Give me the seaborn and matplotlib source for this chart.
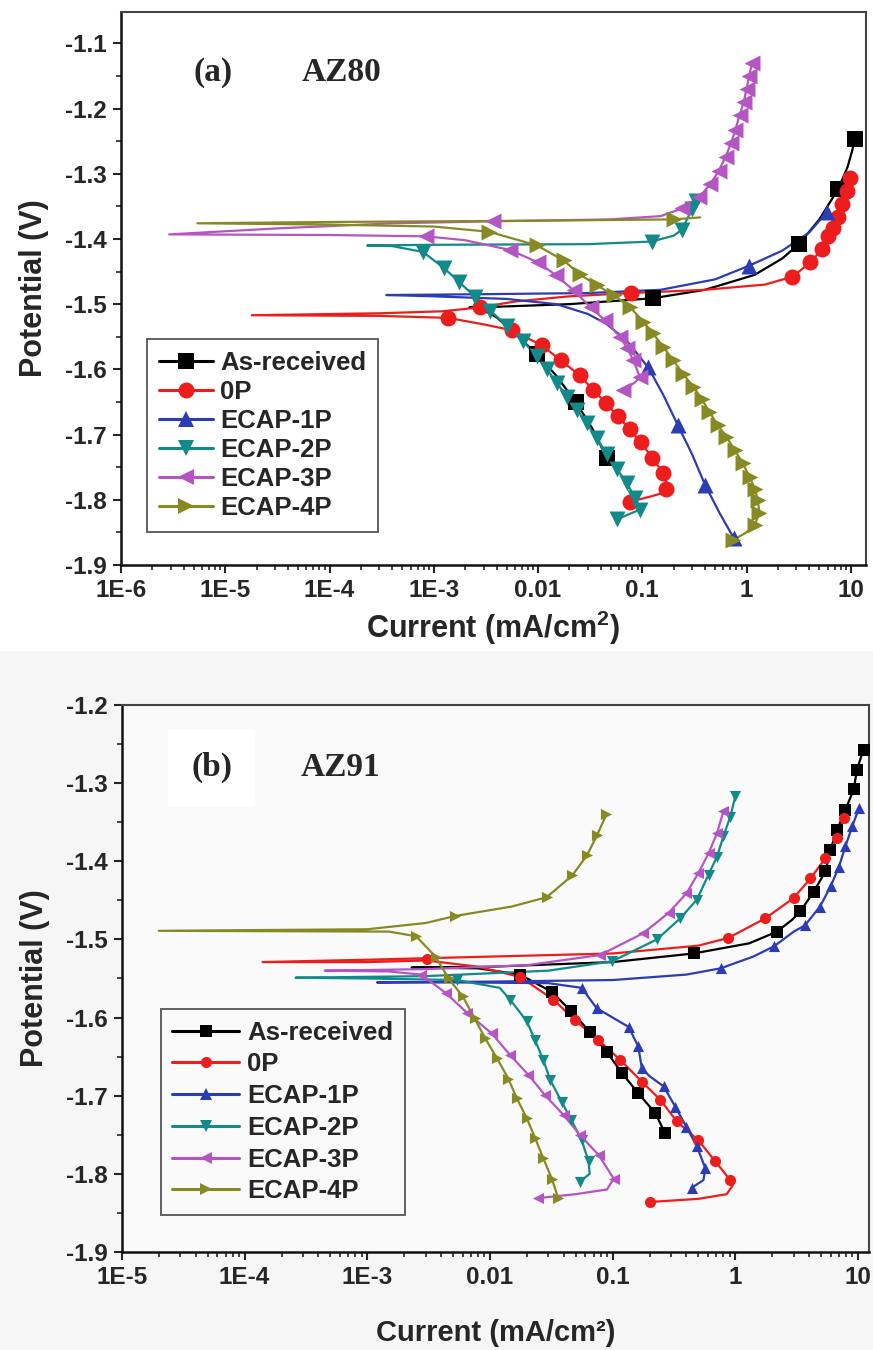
import numpy as np
import pandas as pd
import matplotlib
matplotlib.use("Agg")
import matplotlib.pyplot as plt
import seaborn as sns
from matplotlib.lines import Line2D
from matplotlib.patches import Rectangle
from matplotlib.ticker import FixedLocator, FixedFormatter, LogLocator, MultipleLocator, NullFormatter

# ---- series names / styles ----
labels = ["As-received", "0P", "ECAP-1P", "ECAP-2P", "ECAP-3P", "ECAP-4P"]
colors = ["#000000", "#ee1d1d", "#2b3cb4", "#128a8a", "#b555c4", "#878a22"]
markers = ["s", "o", "^", "v", "<", ">"]

# ---- (a) AZ80: (current mA/cm2, potential V) ----
a_asr_line = [(0.05, -1.745), (0.046, -1.736), (0.033, -1.69), (0.023, -1.65), (0.015, -1.61),
              (0.0098, -1.577), (0.006, -1.545), (0.004, -1.52), (0.0028, -1.507), (0.0022, -1.505),
              (0.004, -1.504), (0.02, -1.500), (0.126, -1.491), (0.4, -1.478), (1.2, -1.455),
              (2.2, -1.43), (3.2, -1.4075), (5.0, -1.37), (7.6, -1.323), (9.3, -1.29), (10.3, -1.265), (11.0, -1.246)]
a_asr_marks = [(0.046, -1.736), (0.023, -1.65), (0.0098, -1.577), (0.126, -1.491), (3.2, -1.4075),
               (7.6, -1.323), (11.0, -1.246)]

a_0p_line = [(0.076, -1.803), (0.12, -1.795), (0.17, -1.788), (0.172, -1.775), (0.158, -1.759),
             (0.125, -1.736), (0.097, -1.712), (0.076, -1.692), (0.058, -1.672), (0.045, -1.652),
             (0.034, -1.632), (0.025, -1.609), (0.0165, -1.586), (0.0108, -1.563), (0.0056, -1.54),
             (0.003, -1.531), (0.00136, -1.521), (0.0003, -1.518), (1.8e-5, -1.517), (0.0003, -1.514),
             (0.0012, -1.511), (0.00277, -1.505), (0.006, -1.496), (0.02, -1.488), (0.078, -1.483),
             (0.4, -1.478), (1.5, -1.47), (2.75, -1.458), (4.1, -1.436), (5.25, -1.416), (6.0, -1.396),
             (6.7, -1.383), (7.6, -1.366), (8.3, -1.346), (9.2, -1.326), (9.8, -1.306)]
a_0p_marks = [(0.076, -1.803), (0.17, -1.784), (0.158, -1.759), (0.125, -1.736), (0.097, -1.712),
              (0.076, -1.692), (0.058, -1.672), (0.045, -1.652), (0.034, -1.632), (0.025, -1.609),
              (0.0165, -1.586), (0.0108, -1.563), (0.0056, -1.54), (0.00136, -1.521), (0.00277, -1.505),
              (0.078, -1.483), (2.75, -1.458), (4.1, -1.436), (5.25, -1.416), (6.0, -1.396), (6.7, -1.383),
              (7.6, -1.366), (8.3, -1.346), (9.2, -1.326), (9.8, -1.306)]

a_1p_line = [(0.75, -1.858), (0.55, -1.82), (0.40, -1.777), (0.3, -1.73), (0.22, -1.686), (0.16, -1.64),
             (0.114, -1.597), (0.07, -1.555), (0.045, -1.53), (0.03, -1.515), (0.015, -1.50), (0.005, -1.492),
             (0.001, -1.488), (3.5e-4, -1.486), (0.002, -1.485), (0.03, -1.483), (0.15, -1.478),
             (0.5, -1.462), (1.06, -1.441), (2.2, -1.418), (4.0, -1.39), (5.96, -1.358)]
a_1p_marks = [(0.75, -1.858), (0.40, -1.777), (0.22, -1.686), (0.114, -1.597), (1.06, -1.441), (5.96, -1.358)]

a_2p_line = [(0.057, -1.83), (0.075, -1.822), (0.095, -1.815), (0.085, -1.797), (0.071, -1.774),
             (0.057, -1.753), (0.0457, -1.73), (0.0366, -1.706), (0.0295, -1.683), (0.0236, -1.662),
             (0.019, -1.642), (0.0152, -1.621), (0.0122, -1.60), (0.0097, -1.58), (0.0072, -1.557),
             (0.005, -1.533), (0.0035, -1.51), (0.0025, -1.489), (0.00175, -1.466), (0.00126, -1.445),
             (0.00079, -1.42), (0.0004, -1.411), (2.3e-4, -1.41), (0.001, -1.409), (0.03, -1.408),
             (0.123, -1.404), (0.2, -1.395), (0.24, -1.386), (0.30, -1.354), (0.35, -1.335)]
a_2p_marks = [(0.057, -1.83), (0.095, -1.815), (0.085, -1.797), (0.071, -1.774), (0.057, -1.753),
              (0.0457, -1.73), (0.0366, -1.706), (0.0295, -1.683), (0.0236, -1.662), (0.019, -1.642),
              (0.0152, -1.621), (0.0122, -1.60), (0.0097, -1.58), (0.0072, -1.557), (0.005, -1.533),
              (0.0035, -1.51), (0.0025, -1.489), (0.00175, -1.466), (0.00126, -1.445), (0.00079, -1.42),
              (0.123, -1.404), (0.24, -1.386), (0.30, -1.354), (0.33, -1.342)]

a_3p_line = [(0.066, -1.632), (0.085, -1.62), (0.095, -1.612), (0.082, -1.586), (0.072, -1.568),
             (0.061, -1.55), (0.044, -1.525), (0.032, -1.505), (0.022, -1.479), (0.015, -1.456),
             (0.01, -1.436), (0.0054, -1.417), (0.002, -1.402), (0.00084, -1.396), (1e-4, -1.394),
             (2.9e-6, -1.393), (3e-5, -1.384), (4e-4, -1.376), (0.0037, -1.373), (0.05, -1.37),
             (0.15, -1.365), (0.243, -1.353), (0.35, -1.336), (0.45, -1.316), (0.54, -1.296),
             (0.63, -1.274), (0.71, -1.253), (0.78, -1.233), (0.86, -1.21), (0.94, -1.19), (1.0, -1.17),
             (1.06, -1.15), (1.13, -1.13)]
a_3p_marks = [(0.066, -1.632), (0.095, -1.612), (0.082, -1.586), (0.072, -1.568), (0.061, -1.55),
              (0.044, -1.525), (0.032, -1.505), (0.022, -1.479), (0.015, -1.456), (0.01, -1.436),
              (0.0054, -1.417), (0.00084, -1.396), (0.0037, -1.373), (0.243, -1.353), (0.35, -1.336),
              (0.45, -1.316), (0.54, -1.296), (0.63, -1.274), (0.71, -1.253), (0.78, -1.233), (0.86, -1.21),
              (0.94, -1.19), (1.0, -1.17), (1.06, -1.15), (1.13, -1.13)]

a_4p_line = [(0.74, -1.862), (1.0, -1.85), (1.2, -1.838), (1.33, -1.82), (1.28, -1.80), (1.2, -1.783),
             (1.07, -1.765), (0.92, -1.744), (0.77, -1.724), (0.64, -1.703), (0.53, -1.686), (0.44, -1.665),
             (0.37, -1.645), (0.31, -1.627), (0.246, -1.607), (0.198, -1.586), (0.158, -1.565),
             (0.127, -1.545), (0.102, -1.527), (0.076, -1.504), (0.053, -1.486), (0.0366, -1.471),
             (0.025, -1.454), (0.0176, -1.433), (0.0098, -1.41), (0.0034, -1.389), (0.001, -1.381),
             (1e-4, -1.378), (5.4e-6, -1.376), (1e-4, -1.374), (0.01, -1.372), (0.2, -1.370), (0.36, -1.367)]
a_4p_marks = [(0.74, -1.862), (1.2, -1.838), (1.33, -1.82), (1.28, -1.80), (1.2, -1.783), (1.07, -1.765),
              (0.92, -1.744), (0.77, -1.724), (0.64, -1.703), (0.53, -1.686), (0.44, -1.665), (0.37, -1.645),
              (0.31, -1.627), (0.246, -1.607), (0.198, -1.586), (0.158, -1.565), (0.127, -1.545),
              (0.102, -1.527), (0.076, -1.504), (0.053, -1.486), (0.0366, -1.471), (0.025, -1.454),
              (0.0176, -1.433), (0.0098, -1.41), (0.0034, -1.389), (0.2, -1.370)]

# ---- (b) AZ91 ----
b_asr_line = [(0.268, -1.748), (0.222, -1.722), (0.162, -1.697), (0.119, -1.671), (0.0897, -1.644),
              (0.065, -1.618), (0.046, -1.592), (0.0318, -1.567), (0.0176, -1.545), (0.008, -1.537),
              (0.0023, -1.536), (0.01, -1.535), (0.1, -1.529), (0.457, -1.518), (1.3, -1.505),
              (2.19, -1.490), (2.9, -1.475), (3.39, -1.464), (4.36, -1.439), (5.43, -1.413), (5.97, -1.385),
              (6.76, -1.360), (7.9, -1.334), (9.25, -1.308), (9.8, -1.283), (11.1, -1.257)]
b_asr_marks = [(0.268, -1.748), (0.222, -1.722), (0.162, -1.697), (0.119, -1.671), (0.0897, -1.644),
               (0.065, -1.618), (0.046, -1.592), (0.0318, -1.567), (0.0176, -1.545), (0.457, -1.518),
               (2.19, -1.490), (3.39, -1.464), (4.36, -1.439), (5.43, -1.413), (5.97, -1.385),
               (6.76, -1.360), (7.9, -1.334), (9.25, -1.308), (9.8, -1.283), (11.1, -1.257)]

b_0p_line = [(0.202, -1.836), (0.5, -1.832), (0.85, -1.826), (0.95, -1.815), (0.91, -1.808),
             (0.687, -1.784), (0.50, -1.757), (0.334, -1.733), (0.244, -1.705), (0.173, -1.682),
             (0.115, -1.654), (0.0766, -1.629), (0.049, -1.603), (0.0329, -1.577), (0.0176, -1.548),
             (0.008, -1.535), (0.00305, -1.527), (0.001, -1.529), (1.4e-4, -1.529), (0.001, -1.526),
             (0.01, -1.522), (0.1, -1.518), (0.5, -1.508), (0.88, -1.498), (1.76, -1.473), (2.99, -1.447),
             (4.1, -1.422), (5.43, -1.396), (6.76, -1.370), (7.66, -1.345)]
b_0p_marks = [(0.202, -1.836), (0.91, -1.808), (0.687, -1.784), (0.50, -1.757), (0.334, -1.733),
              (0.244, -1.705), (0.173, -1.682), (0.115, -1.654), (0.0766, -1.629), (0.049, -1.603),
              (0.0329, -1.577), (0.0176, -1.548), (0.00305, -1.525), (0.88, -1.498), (1.76, -1.473),
              (2.99, -1.447), (4.1, -1.422), (5.43, -1.396), (6.76, -1.370), (7.66, -1.345)]

b_1p_line = [(0.44, -1.818), (0.55, -1.808), (0.57, -1.793), (0.487, -1.765), (0.40, -1.740),
             (0.324, -1.714), (0.26, -1.688), (0.2, -1.675), (0.173, -1.665), (0.162, -1.637),
             (0.135, -1.612), (0.1, -1.60), (0.074, -1.588), (0.056, -1.562), (0.03, -1.556),
             (0.005, -1.555), (1.2e-3, -1.555), (0.01, -1.554), (0.1, -1.552), (0.4, -1.545),
             (0.76, -1.537), (1.4, -1.522), (2.06, -1.509), (3.0, -1.49), (3.7, -1.482), (4.9, -1.458),
             (6.0, -1.432), (7.0, -1.407), (7.9, -1.381), (9.0, -1.355), (10.2, -1.332)]
b_1p_marks = [(0.44, -1.818), (0.57, -1.793), (0.487, -1.765), (0.40, -1.740), (0.324, -1.714),
              (0.26, -1.688), (0.173, -1.665), (0.162, -1.637), (0.135, -1.612), (0.074, -1.588),
              (0.056, -1.562), (0.76, -1.537), (2.06, -1.509), (3.7, -1.482), (4.9, -1.458), (6.0, -1.432),
              (7.0, -1.407), (7.9, -1.381), (9.0, -1.355), (10.2, -1.332)]

b_2p_line = [(0.054, -1.810), (0.065, -1.80), (0.0636, -1.784), (0.056, -1.757), (0.046, -1.731),
             (0.0385, -1.708), (0.031, -1.680), (0.0272, -1.654), (0.0233, -1.629), (0.020, -1.605),
             (0.0146, -1.577), (0.012, -1.562), (0.0054, -1.552), (0.001, -1.550), (2.6e-4, -1.549),
             (0.003, -1.547), (0.03, -1.540), (0.099, -1.528), (0.23, -1.500), (0.356, -1.473),
             (0.487, -1.449), (0.605, -1.417), (0.71, -1.394), (0.80, -1.368), (0.91, -1.343), (1.0, -1.317)]
b_2p_marks = [(0.054, -1.810), (0.0636, -1.784), (0.056, -1.757), (0.046, -1.731), (0.0385, -1.708),
              (0.031, -1.680), (0.0272, -1.654), (0.0233, -1.629), (0.020, -1.605), (0.0146, -1.577),
              (0.0054, -1.552), (0.099, -1.528), (0.23, -1.500), (0.356, -1.473), (0.487, -1.449),
              (0.605, -1.417), (0.71, -1.394), (0.80, -1.368), (0.91, -1.343), (1.0, -1.317)]

b_3p_line = [(0.0248, -1.831), (0.05, -1.826), (0.09, -1.82), (0.102, -1.806), (0.077, -1.776),
             (0.054, -1.750), (0.040, -1.725), (0.028, -1.699), (0.0205, -1.673), (0.0146, -1.648),
             (0.0103, -1.620), (0.0065, -1.594), (0.0044, -1.569), (0.00275, -1.545), (0.0015, -1.541),
             (4.5e-4, -1.540), (0.003, -1.538), (0.02, -1.533), (0.079, -1.520), (0.178, -1.492),
             (0.286, -1.466), (0.40, -1.441), (0.50, -1.415), (0.605, -1.390), (0.71, -1.364), (0.80, -1.336)]
b_3p_marks = [(0.0248, -1.831), (0.102, -1.806), (0.077, -1.776), (0.054, -1.750), (0.040, -1.725),
              (0.028, -1.699), (0.0205, -1.673), (0.0146, -1.648), (0.0103, -1.620), (0.0065, -1.594),
              (0.0044, -1.569), (0.00275, -1.545), (0.079, -1.520), (0.178, -1.492), (0.286, -1.466),
              (0.40, -1.441), (0.50, -1.415), (0.605, -1.390), (0.71, -1.364), (0.80, -1.336)]

b_4p_line = [(0.036, -1.831), (0.0319, -1.806), (0.0272, -1.780), (0.0233, -1.754), (0.020, -1.729),
             (0.0165, -1.703), (0.0141, -1.678), (0.0114, -1.652), (0.0091, -1.626), (0.0075, -1.601),
             (0.006, -1.573), (0.0046, -1.550), (0.0036, -1.522), (0.0025, -1.496), (0.0015, -1.490),
             (2e-5, -1.489), (0.001, -1.487), (0.003, -1.479), (0.0052, -1.470), (0.015, -1.458),
             (0.029, -1.446), (0.047, -1.418), (0.062, -1.392), (0.075, -1.366), (0.089, -1.340)]
b_4p_marks = [(0.036, -1.831), (0.0319, -1.806), (0.0272, -1.780), (0.0233, -1.754), (0.020, -1.729),
              (0.0165, -1.703), (0.0141, -1.678), (0.0114, -1.652), (0.0091, -1.626), (0.0075, -1.601),
              (0.006, -1.573), (0.0046, -1.550), (0.0036, -1.522), (0.0025, -1.496), (0.0052, -1.470),
              (0.029, -1.446), (0.047, -1.418), (0.062, -1.392), (0.075, -1.366), (0.089, -1.340)]

# ---- axis ticks ----
a_xticks = [1e-6, 1e-5, 1e-4, 1e-3, 1e-2, 1e-1, 1, 10]
a_xticklabels = ["1E-6", "1E-5", "1E-4", "1E-3", "0.01", "0.1", "1", "10"]
b_xticks = [1e-5, 1e-4, 1e-3, 1e-2, 1e-1, 1, 10]
b_xticklabels = ["1E-5", "1E-4", "1E-3", "0.01", "0.1", "1", "10"]
a_yticks = [-1.9, -1.8, -1.7, -1.6, -1.5, -1.4, -1.3, -1.2, -1.1]
b_yticks = [-1.9, -1.8, -1.7, -1.6, -1.5, -1.4, -1.3, -1.2]

sns.set_theme(style="ticks")
plt.rcParams["font.family"] = ["Liberation Sans", "DejaVu Sans"]
plt.rcParams["font.weight"] = "bold"
plt.rcParams["mathtext.fontset"] = "custom"
plt.rcParams["mathtext.rm"] = "Liberation Sans:bold"
plt.rcParams["mathtext.it"] = "Liberation Sans:bold"

fig = plt.figure(figsize=(8.73, 13.5), dpi=100)
fig.patch.set_facecolor("white")
fig.patches.append(Rectangle((0, 0), 1, 0.518, transform=fig.transFigure,
                             facecolor="#f6f6f6", edgecolor="none", zorder=-10))

ax1 = fig.add_axes([0.1386, 0.5815, 0.8534, 0.4096])
ax2 = fig.add_axes([0.1397, 0.0726, 0.8557, 0.4052])
ax2.set_facecolor("#fafafa")


def draw(ax, line, marks, color, marker, ms, lw):
    df = pd.DataFrame(line, columns=["i", "e"])
    sns.lineplot(data=df, x="i", y="e", sort=False, estimator=None, color=color,
                 linewidth=lw, ax=ax, legend=False)
    dm = pd.DataFrame(marks, columns=["i", "e"])
    sns.scatterplot(data=dm, x="i", y="e", marker=marker, color=color, s=ms ** 2,
                    edgecolor=color, linewidth=0, ax=ax, legend=False, zorder=3)


panels = [
    (ax1, [a_asr_line, a_0p_line, a_1p_line, a_2p_line, a_3p_line, a_4p_line],
     [a_asr_marks, a_0p_marks, a_1p_marks, a_2p_marks, a_3p_marks, a_4p_marks], 11.5),
    (ax2, [b_asr_line, b_0p_line, b_1p_line, b_2p_line, b_3p_line, b_4p_line],
     [b_asr_marks, b_0p_marks, b_1p_marks, b_2p_marks, b_3p_marks, b_4p_marks], 8.0),
]
for ax, lines, marks, ms in panels:
    for k in range(6):
        draw(ax, lines[k], marks[k], colors[k], markers[k], ms, 1.6)

# ---- axes styling ----
for ax, xt, xl, yt, xlim, ylim in [
        (ax1, a_xticks, a_xticklabels, a_yticks, (1e-6, 14), (-1.9, -1.052)),
        (ax2, b_xticks, b_xticklabels, b_yticks, (1e-5, 12.3), (-1.9, -1.2))]:
    ax.set_xscale("log")
    ax.set_xlim(*xlim)
    ax.set_ylim(*ylim)
    ax.xaxis.set_major_locator(FixedLocator(xt))
    ax.xaxis.set_major_formatter(FixedFormatter(xl))
    ax.xaxis.set_minor_locator(LogLocator(base=10, subs=np.arange(2, 10)))
    ax.xaxis.set_minor_formatter(NullFormatter())
    ax.yaxis.set_major_locator(FixedLocator(yt))
    ax.yaxis.set_major_formatter(FixedFormatter([f"{v:.1f}" for v in yt]))
    ax.yaxis.set_minor_locator(MultipleLocator(0.05))
    ax.tick_params(which="major", direction="out", length=6, width=1.5, labelsize=17.5, pad=4,
                   top=False, right=False)
    ax.tick_params(which="minor", direction="out", length=3.5, width=1.2, top=False, right=False)
    for lab in ax.get_xticklabels() + ax.get_yticklabels():
        lab.set_fontweight("bold")
    for side in ["left", "bottom"]:
        ax.spines[side].set_linewidth(1.8)
        ax.spines[side].set_color("#111111")
    for side in ["top", "right"]:
        ax.spines[side].set_visible(True)
        ax.spines[side].set_linewidth(1.5)
        ax.spines[side].set_color("#444444")
    ax.set_ylabel("Potential (V)", fontsize=22, fontweight="bold", labelpad=12)

ax1.set_xlabel(r"Current (mA/cm$^2$)", fontsize=22, fontweight="bold", labelpad=5)
ax2.set_xlabel("Current (mA/cm²)", fontsize=21, fontweight="bold", labelpad=22)

ax1.text(0.1235, 0.891, "(a)", transform=ax1.transAxes, ha="center", va="center",
         fontsize=24, fontweight="bold", family="Liberation Serif")
ax1.text(0.2966, 0.891, "AZ80", transform=ax1.transAxes, ha="center", va="center",
         fontsize=24, fontweight="bold", family="Liberation Serif")
ax2.text(0.12, 0.885, "(b)", transform=ax2.transAxes, ha="center", va="center",
         fontsize=24, fontweight="bold", family="Liberation Serif",
         bbox=dict(boxstyle="square,pad=0.7", facecolor="white", edgecolor="none"))
ax2.text(0.293, 0.885, "AZ91", transform=ax2.transAxes, ha="center", va="center",
         fontsize=24, fontweight="bold", family="Liberation Serif")

# ---- legends ----
for ax, anchor, ms, hl, ls in [(ax1, (0.035, 0.06), 11.5, 2.1, 0.2), (ax2, (0.052, 0.068), 8.0, 2.6, 0.3)]:
    handles = [Line2D([], [], color=c, marker=m, markersize=ms, linewidth=2.2, markeredgewidth=0)
               for c, m in zip(colors, markers)]
    leg = ax.legend(handles, labels, loc="lower left", bbox_to_anchor=anchor, borderaxespad=0,
                    frameon=True, fancybox=False, edgecolor="#555555", framealpha=1,
                    prop={"size": 18.5, "weight": "bold"}, handlelength=hl, handletextpad=0.3,
                    labelspacing=ls, borderpad=0.45)
    leg.get_frame().set_linewidth(1.3)
    leg.get_frame().set_facecolor("white" if ax is ax1 else "#fafafa")

fig.savefig("out.png", dpi=100)
